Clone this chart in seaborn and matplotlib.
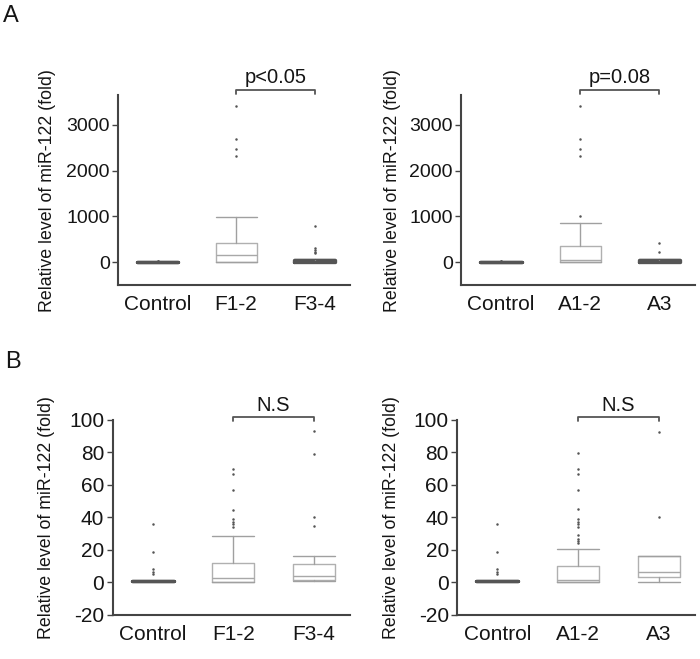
import matplotlib
matplotlib.use("Agg")
import matplotlib.pyplot as plt
import seaborn as sns

# groups on the x axis
groups_fib = ["Control", "F1-2", "F3-4"]
groups_act = ["Control", "A1-2", "A3"]

# panel A: (whislo, q1, median, q3, whishi)
a_fib_box = [(1.0, 1.0, 1.0, 1.0, 1.0), (0, 5, 160, 425, 980), (0, 5, 20, 45, 60)]
a_fib_out = [[5, 6.5, 8, 19, 36], [2320, 2465, 2700, 3410], [190, 230, 260, 300, 790]]
a_act_box = [(1.0, 1.0, 1.0, 1.0, 1.0), (0, 5, 50, 360, 860), (0, 5, 20, 45, 60)]
a_act_out = [[5, 6.5, 8, 19, 36], [1000, 2320, 2465, 2700, 3410], [225, 410]]

# panel B
b_fib_box = [(1.0, 1.0, 1.0, 1.0, 1.0), (0.2, 0.4, 2.9, 12.1, 28.8), (0.8, 1.4, 3.9, 11.3, 16.3)]
b_fib_out = [[5, 6.5, 8, 19, 36], [34, 36, 37.5, 39, 44.7, 56.7, 67, 70], [35, 40, 79, 93]]
b_act_box = [(1.0, 1.0, 1.0, 1.0, 1.0), (0.2, 0.4, 1.8, 10.1, 20.6), (0.4, 3.1, 6.6, 16.3, 16.3)]
b_act_out = [[5, 6.5, 8, 19, 36],
             [24, 25.5, 27, 29.3, 34.4, 36, 37.5, 39, 45.2, 56.7, 67, 70.1, 79.4],
             [40.2, 92.8]]

pvals = ["p<0.05", "p=0.08", "N.S", "N.S"]

sns.set_style("ticks")
plt.rcParams["font.family"] = ["Liberation Sans", "DejaVu Sans"]

fig = plt.figure(figsize=(7, 6.59), dpi=100)

axc = "#444444"
txt = "#151515"


def draw_panel(rect, names, boxes, outs, ylim, yticks, ytick_fs, label_x, ptext, br_y, dark):
    ax = fig.add_axes(rect)
    for i, (b, o) in enumerate(zip(boxes, outs)):
        st = dict(whislo=b[0], q1=b[1], med=b[2], q3=b[3], whishi=b[4], fliers=o)
        if i in dark:
            c, lw = "#555555", 2.4
        else:
            c, lw = "#b0b0b0", 1.0
        ax.bxp([st], positions=[i], widths=0.52, capwidths=0.52,
               boxprops=dict(color=c, linewidth=lw),
               whiskerprops=dict(color="#a0a0a0", linewidth=1.0),
               capprops=dict(color="#a0a0a0" if i not in dark else c, linewidth=1.0),
               medianprops=dict(color="#a8a8a8" if i not in dark else c, linewidth=1.0),
               flierprops=dict(marker="o", markersize=1.8, markerfacecolor="#555555",
                               markeredgecolor="none"),
               manage_ticks=False)
    ax.set_xlim(-0.5, 2.45)
    ax.set_ylim(*ylim)
    ax.set_yticks(yticks)
    ax.set_yticklabels([str(t) for t in yticks], fontsize=ytick_fs, color=txt)
    ax.set_xticks(range(len(names)))
    ax.set_xticklabels(names, fontsize=15, color=txt)
    ax.tick_params(axis="x", length=0, pad=7)
    ax.tick_params(axis="y", length=4, width=1, color=axc, pad=2)
    sns.despine(ax=ax)
    for s in ["left", "bottom"]:
        ax.spines[s].set_color(axc)
        ax.spines[s].set_linewidth(1.5)
    ax.set_ylabel("Relative level of miR-122 (fold)", fontsize=12.8, color=txt)
    ax.yaxis.set_label_coords(label_x, 0.5)
    # significance bracket between groups 1 and 2
    tr = ax.get_xaxis_transform()
    ax.plot([1, 1, 2, 2], [br_y - 0.022, br_y, br_y, br_y - 0.022], color="#555555",
            lw=1.3, transform=tr, clip_on=False)
    ax.text(1.5, br_y + 0.012, ptext, ha="center", va="bottom", fontsize=14.5,
            color=txt, transform=tr)
    return ax


draw_panel([0.169, 0.5675, 0.331, 0.288], groups_fib, a_fib_box, a_fib_out,
           (-500, 3650), [0, 1000, 2000, 3000], 14, -0.27, pvals[0], 1.03, [0, 2])
draw_panel([0.659, 0.5675, 0.334, 0.288], groups_act, a_act_box, a_act_out,
           (-500, 3650), [0, 1000, 2000, 3000], 14, -0.26, pvals[1], 1.03, [0, 2])
draw_panel([0.161, 0.0668, 0.339, 0.296], groups_fib, b_fib_box, b_fib_out,
           (-20, 100), [-20, 0, 20, 40, 60, 80, 100], 15, -0.245, pvals[2], 1.015, [0])
draw_panel([0.653, 0.0668, 0.340, 0.296], groups_act, b_act_box, b_act_out,
           (-20, 100), [-20, 0, 20, 40, 60, 80, 100], 15, -0.24, pvals[3], 1.015, [0])

fig.text(0.004, 1 - 5 / 659, "A", fontsize=17, va="top", ha="left", color=txt)
fig.text(0.008, 1 - 351 / 659, "B", fontsize=17, va="top", ha="left", color=txt)

fig.savefig("out.png", dpi=100)
